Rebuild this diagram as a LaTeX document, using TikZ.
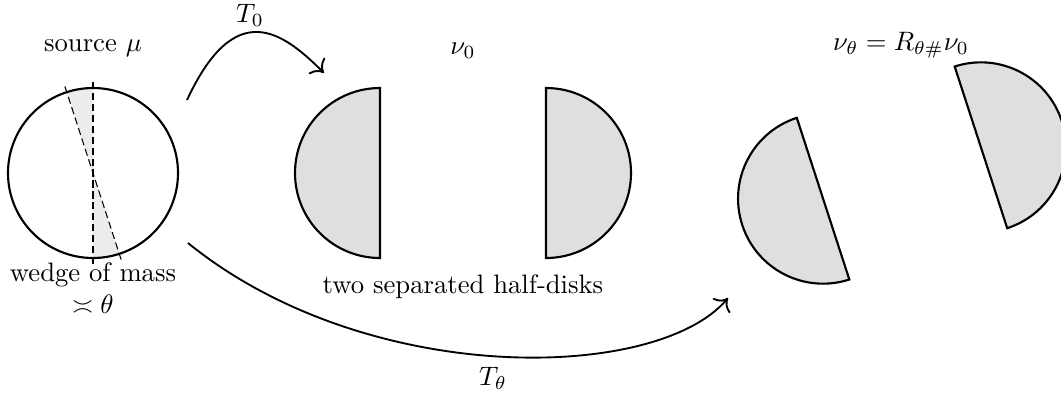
\documentclass[tikz,border=0pt]{standalone}
\usepackage{amsmath,amssymb}
\usetikzlibrary{calc,arrows.meta}
\begin{document}
\begin{tikzpicture}[x=0.375pt,y=0.375pt,
  disk/.style={draw,thick,fill=gray!25},
  wedgefill/.style={fill=gray!15},
  guide/.style={dash pattern=on 2.7pt off 1.4pt,thin},
  mapto/.style={-{To[scale=1.3]},line width=0.7pt},
  lbl/.style={inner sep=1pt}]
\useasboundingbox (0,0) rectangle (1061,396);
% source disk with wedge
\fill[wedgefill] (93,223) -- ++(90:85) arc (90:108:85) -- cycle;
\fill[wedgefill] (93,223) -- ++(270:85) arc (270:288:85) -- cycle;
\node[draw,thick,circle,minimum size=63.75pt,inner sep=0pt] (src) at (93,223) {};
\coordinate (c0) at (93,223);
\draw[guide] ($(c0)+(90:91)$) -- ($(c0)+(270:91)$);
\draw[guide] ($(c0)+(108:91)$) -- ($(c0)+(288:91)$);
\node[lbl] (srclabel) at (93,348) {source $\mu$};
\node[lbl,align=center] (wedgelabel) at (93,108) {wedge of mass\\$\asymp\theta$};
% nu_0
\draw[disk] (380,308) arc (90:270:85) -- cycle;
\draw[disk] (546,138) arc (-90:90:85) -- cycle;
\node[lbl] (nu0) at (463,345) {$\nu_0$};
\node[lbl] (sep) at (463,109) {two separated half-disks};
% nu_theta
\begin{scope}[shift={(902,223)},rotate=18]
\draw[disk] (-83,85) arc (90:270:85) -- cycle;
\draw[disk] (83,-85) arc (-90:90:85) -- cycle;
\end{scope}
\node[lbl] (nut) at (901,351) {$\nu_\theta = R_{\theta\#}\nu_0$};
% arrows
\coordinate (a0s) at (187,296);
\coordinate (a0e) at (324,323);
\draw[mapto] (a0s) .. controls (235,399) and (282,365) .. (a0e);
\node[lbl] (T0) at (250,381) {$T_0$};
\coordinate (ats) at (188,153);
\coordinate (ate) at (728,98);
\draw[mapto] (ats) .. controls (367,8) and (657,14) .. (ate);
\node[lbl] (Tt) at (493,18) {$T_\theta$};
\end{tikzpicture}
\end{document}
